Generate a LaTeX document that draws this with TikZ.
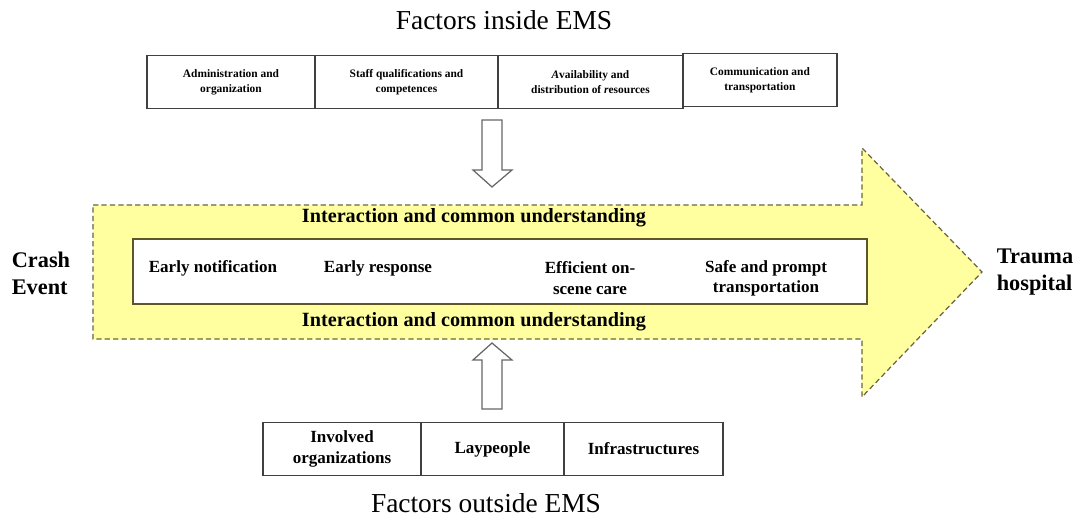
\documentclass[tikz,border=0pt]{standalone}
\usepackage{fontspec}
\setmainfont{Liberation Serif}
\usetikzlibrary{positioning}
\definecolor{bandfill}{RGB}{255,255,160}
\definecolor{bandline}{RGB}{105,100,65}
\definecolor{stageline}{RGB}{95,85,40}
\tikzset{
  factor/.style    = {shape=rectangle, draw=black!75, line width=0.7pt,
                      align=center, inner sep=1pt, outer sep=0pt,
                      minimum height=1.06cm,
                      font=\bfseries\fontsize{6.5}{8.6}\selectfont},
  outfactor/.style = {factor, font=\bfseries\fontsize{9.7}{12}\selectfont},
  stage/.style     = {align=center, font=\bfseries\fontsize{9.7}{11.5}\selectfont},
  band/.style      = {font=\bfseries\fontsize{11.5}{13}\selectfont},
  endpoint/.style  = {align=left, font=\bfseries\fontsize{12.7}{15.3}\selectfont},
  heading/.style   = {font=\fontsize{15.6}{18}\selectfont},
  hollow/.style    = {draw=black!60, fill=white, line width=0.7pt}
}

\begin{document}
\begin{tikzpicture}[x=0.02cm, y=-0.02cm]
  \useasboundingbox (0,0) rectangle (1078,520);

  % big flow arrow
  \draw[fill=bandfill, draw=bandline, dash pattern=on 3pt off 1.8pt, line width=0.7pt]
    (93,205) -- (862,205) -- (862,148) -- (982,272) -- (862,397)
    -- (862,339) -- (93,339) -- cycle;
  \draw[draw=stageline, fill=white, line width=0.9pt] (133,239) rectangle (867,304);

  \node[band] (bandtop) at (474,218) {Interaction and common understanding};
  \node[band] (bandbot) at (474,322) {Interaction and common understanding};

  \node[stage] (notify)   at (213,268) {Early notification};
  \node[stage] (response) at (378,268) {Early response};
  \node[stage] (onscene)  at (590,278) {Efficient on-\\scene care};
  \node[stage] (transp)   at (766,278) {Safe and prompt\\transportation};

  \node[endpoint] (crash)  at (41,273)   {Crash\\Event};
  \node[endpoint] (trauma) at (1035,272) {Trauma\\hospital};

  % factors inside EMS
  \node[heading] (inside) at (504,20) {Factors inside EMS};
  \node[factor, minimum width=3.36cm] (admin) at (231,82) {Administration and\\organization};
  \node[factor, minimum width=3.66cm, right=0pt of admin] (staff) {Staff qualifications and\\competences};
  \node[factor, minimum width=3.70cm, right=0pt of staff] (avail) {\textit{A}vailability and\\distribution of \textit{r}esources};
  \node[factor, minimum width=3.08cm, right=0pt of avail, yshift=1pt] (comm) {Communication and\\transportation};

  % factors outside EMS
  \node[outfactor, minimum width=3.16cm] (involved) at (342,449) {Involved\\organizations};
  \node[outfactor, minimum width=2.86cm, right=0pt of involved] (lay) {Laypeople};
  \node[outfactor, minimum width=3.18cm, right=0pt of lay] (infra) {Infrastructures};
  \node[heading] (outside) at (486,503) {Factors outside EMS};

  % hollow arrows
  \coordinate (downtop) at (492,120);
  \coordinate (uptip) at (492,343);
  \draw[hollow] (downtop) ++(-10,0) -- ++(20,0) -- ++(0,50) -- ++(10,0)
    -- ++(-20,17) -- ++(-19,-17) -- ++(9,0) -- cycle;
  \draw[hollow] (uptip) -- ++(20,17) -- ++(-10,0) -- ++(0,49) -- ++(-20,0)
    -- ++(0,-49) -- ++(-9,0) -- cycle;
\end{tikzpicture}
\end{document}
